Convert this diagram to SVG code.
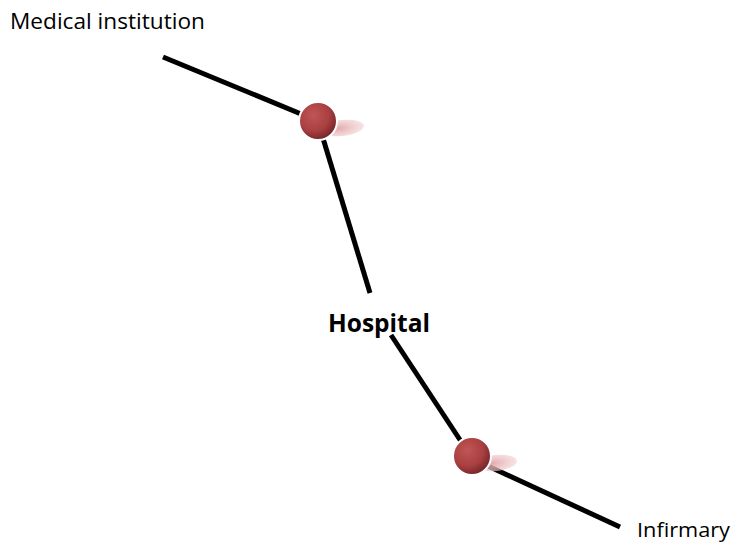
<svg xmlns="http://www.w3.org/2000/svg" width="733" height="544" viewBox="0 0 733 544">
<defs>
<radialGradient id="ball" cx="0.38" cy="0.35" r="0.7">
<stop offset="0" stop-color="#c25555"/>
<stop offset="0.6" stop-color="#a83f40"/>
<stop offset="1" stop-color="#6e2226"/>
</radialGradient>
<radialGradient id="shadow" cx="0.4" cy="0.5" r="0.6">
<stop offset="0" stop-color="#e0a0a4" stop-opacity="0.9"/>
<stop offset="1" stop-color="#f2d0d2" stop-opacity="0.6"/>
</radialGradient>
<style>
.ln{stroke:#000;stroke-width:5;fill:none;stroke-linecap:butt}
.lbl{font-family:"Open Sans","Liberation Sans",sans-serif;fill:#000}
.ball{fill:url(#ball);stroke:#fff;stroke-width:2}
.sh{fill:url(#shadow)}
</style>
</defs>
<rect width="733" height="544" fill="#fff"/>
<g id="connectors">
<line class="ln" x1="163" y1="57" x2="318" y2="121"/>
<line class="ln" x1="322" y1="135" x2="370" y2="293"/>
<line class="ln" x1="391" y1="335" x2="468" y2="452"/>
<line class="ln" x1="475" y1="460" x2="620" y2="527"/>
</g>
<g id="node-top">
<ellipse class="sh" cx="342" cy="128" rx="22" ry="8" transform="rotate(-6 342 128)"/>
<circle class="ball" cx="318" cy="121" r="19"/>
</g>
<g id="node-bottom">
<ellipse class="sh" cx="496" cy="463" rx="21" ry="8" transform="rotate(-6 496 463)"/>
<circle class="ball" cx="472" cy="456" r="19"/>
</g>
<g id="label-medical">
<text class="lbl" x="10" y="29" font-size="22" textLength="195" lengthAdjust="spacingAndGlyphs">Medical institution</text>
</g>
<g id="label-hospital">
<text class="lbl" x="328" y="332" font-size="25" font-weight="bold" textLength="102" lengthAdjust="spacingAndGlyphs">Hospital</text>
</g>
<g id="label-infirmary">
<text class="lbl" x="637" y="537" font-size="20" textLength="93" lengthAdjust="spacingAndGlyphs">Infirmary</text>
</g>
</svg>
